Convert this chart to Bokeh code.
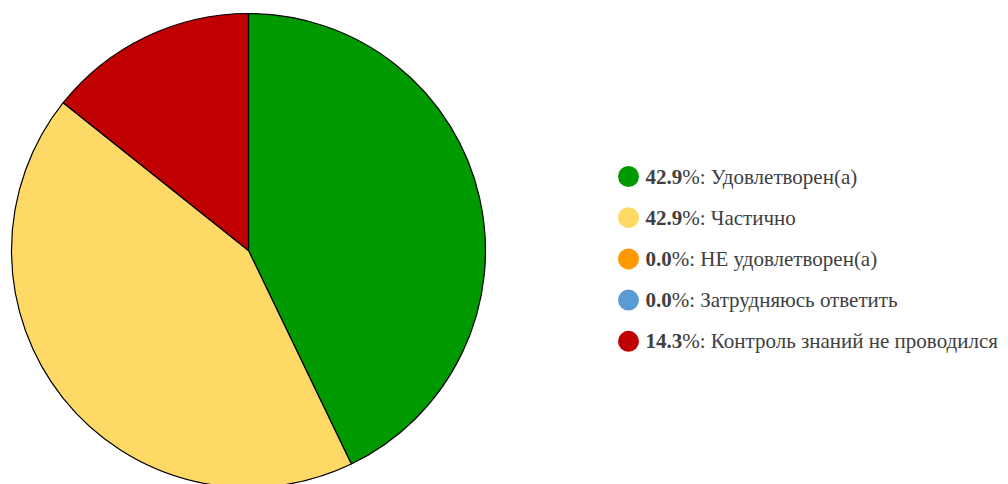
import math
from bokeh.plotting import figure
from bokeh.models import Range1d, ColumnDataSource
from bokeh.core.properties import value
from bokeh.embed import file_html
from bokeh.resources import INLINE

categories = ["Удовлетворен(а)", "Частично", "НЕ удовлетворен(а)", "Затрудняюсь ответить", "Контроль знаний не проводился"]
percents = [42.9, 42.9, 0.0, 0.0, 14.3]
pct_labels = ["42.9", "42.9", "0.0", "0.0", "14.3"]
colors = ["#009900", "#FFD966", "#FF9900", "#5B9BD5", "#C00000"]

W, H = 1008, 484
p = figure(width=W, height=H, output_backend="svg", toolbar_location=None,
           x_range=Range1d(0, W), y_range=Range1d(0, H), min_border=0,
           outline_line_color=None)
p.axis.visible = False
p.grid.visible = False
p.background_fill_color = "white"

# pie
cx, cy, r = 248, H - 250, 237
total = sum(percents)
starts, ends, cols = [], [], []
acc = 0.0
for v, c in zip(percents, colors):
    if v > 0:
        a0 = math.pi / 2 - acc / total * 2 * math.pi
        a1 = math.pi / 2 - (acc + v) / total * 2 * math.pi
        starts.append(a0); ends.append(a1); cols.append(c)
    acc += v
src = ColumnDataSource(dict(x=[cx] * len(starts), y=[cy] * len(starts), s=starts, e=ends, c=cols))
p.wedge(x="x", y="y", radius=r, start_angle="s", end_angle="e", direction="clock",
        fill_color="c", line_color="#000000", line_width=1.2, source=src)

# legend
font = value("Liberation Serif")
fpx = 21.0
fs = f"{fpx}px"
lx, ly0, dy = 628, H - 176, 41.2
ys = [ly0 - i * dy for i in range(len(categories))]
p.scatter(x=[lx] * len(categories), y=ys, size=21, marker="circle", fill_color=colors, line_color=None)
tx = lx + 17
p.text(x=[tx] * len(categories), y=ys, text=pct_labels, text_font=font, text_font_size=fs,
       text_font_style="bold", text_color="#404040", text_baseline="middle", text_align="left")
offs = [sum(0.25 if ch == "." else 0.5 for ch in s) * fpx for s in pct_labels]
p.text(x=[tx + o for o in offs], y=ys, text=["%: " + c for c in categories],
       text_font=font, text_font_size=fs, text_color="#404040", text_baseline="middle", text_align="left")

open("out.html", "w").write(file_html(p, INLINE))
